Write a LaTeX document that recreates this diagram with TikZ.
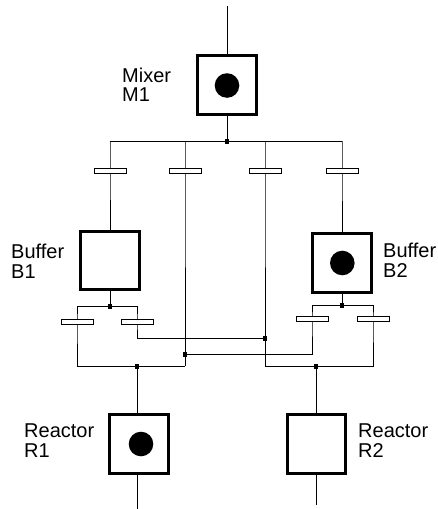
\documentclass[tikz,border=0pt]{standalone}
\usepackage{fontspec}
\setmainfont{Liberation Sans}
\usetikzlibrary{backgrounds}
\begin{document}
\begin{tikzpicture}[x=1pt,y=-1pt,
  vessel/.style={draw, line width=3pt, minimum size=58.5pt, inner sep=0pt, fill=white},
  tbar/.style={draw, line width=1pt, fill=white, minimum width=32pt, minimum height=5pt, inner sep=0pt},
  conn/.style={line width=1pt},
  token/.style={fill=black, circle, minimum size=24.6pt, inner sep=0pt},
  jn/.style={fill=black, minimum width=4pt, minimum height=5pt, inner sep=0pt},
  lbl/.style={anchor=north west, inner sep=0pt, align=left, font=\fontsize{20}{19.5}\selectfont}]
\useasboundingbox (0,0) rectangle (438,509);
% coordinates
\coordinate (top) at (227,6);
\coordinate (h1) at (110,141);
\coordinate (h2) at (185,141);
\coordinate (h3) at (265,141);
\coordinate (h4) at (342,141);
\coordinate (c1) at (77,366);
\coordinate (c2) at (185,366);
\coordinate (c3) at (265,366);
\coordinate (c4) at (373,366);
\coordinate (c5) at (137,338);
\coordinate (c6) at (312,354);
\coordinate (e1) at (137,509);
\coordinate (e2) at (316,505);
% places
\node[vessel] (M1) at (227,85) {};
\node[token] (M1t) at (227,85.5) {};
\node[vessel] (B1) at (110,260.5) {};
\node[vessel] (B2) at (342,263) {};
\node[token] (B2t) at (342.3,263) {};
\node[vessel] (R1) at (139,444) {};
\node[token] (R1t) at (141,444) {};
\node[vessel] (R2) at (316.5,444) {};
% transitions
\node[tbar] (t1) at (110,171) {};
\node[tbar] (t2) at (185,171) {};
\node[tbar] (t3) at (265,171) {};
\node[tbar] (t4) at (342,171) {};
\node[tbar] (t11) at (77,321.5) {};
\node[tbar] (t12) at (137,321.5) {};
\node[tbar] (t21) at (312,319) {};
\node[tbar] (t22) at (373,319) {};
% junctions
\node[jn] (jM) at (227,141) {};
\node[jn] (jB1) at (110,306) {};
\node[jn] (jB2) at (342,305) {};
\node[jn] (j2) at (185,354) {};
\node[jn] (j3) at (265,338) {};
\node[jn] (jR1) at (137,366) {};
\node[jn] (jR2) at (316,366) {};
% labels
\node[lbl] (M1l) at (122,67.5) {Mixer\\M1};
\node[lbl] (B1l) at (11,244) {Buffer\\B1};
\node[lbl] (B2l) at (383,243) {Buffer\\B2};
\node[lbl] (R1l) at (24,424) {Reactor\\R1};
\node[lbl] (R2l) at (358,424) {Reactor\\R2};
% arcs
\begin{scope}[on background layer]
\draw[conn] (top) -- (M1.north);
\draw[conn] (M1.south) -- (jM.center);
\draw[conn] (h1) -- (h4);
\draw[conn] (h1) -- (t1.center) -- (B1.north);
\draw[conn] (h2) -- (t2.center) -- (c2);
\draw[conn] (h3) -- (t3.center) -- (c3);
\draw[conn] (h4) -- (t4.center) -- (B2.north);
\draw[conn] (B1.south) -- (jB1.center);
\draw[conn] (t11 |- jB1) -- (t12 |- jB1);
\draw[conn] (t11 |- jB1) -- (t11.center) -- (c1) -- (c2);
\draw[conn] (t12 |- jB1) -- (t12.center) -- (c5) -- (j3.center);
\draw[conn] (B2.south) -- (jB2.center);
\draw[conn] (t21 |- jB2) -- (t22 |- jB2);
\draw[conn] (t21 |- jB2) -- (t21.center) -- (c6) -- (j2.center);
\draw[conn] (t22 |- jB2) -- (t22.center) -- (c4) -- (c3);
\draw[conn] (jR1.center) -- (jR1 |- R1.north);
\draw[conn] (e1 |- R1.south) -- (e1);
\draw[conn] (jR2.center) -- (jR2 |- R2.north);
\draw[conn] (e2 |- R2.south) -- (e2);
\end{scope}
\end{tikzpicture}
\end{document}
